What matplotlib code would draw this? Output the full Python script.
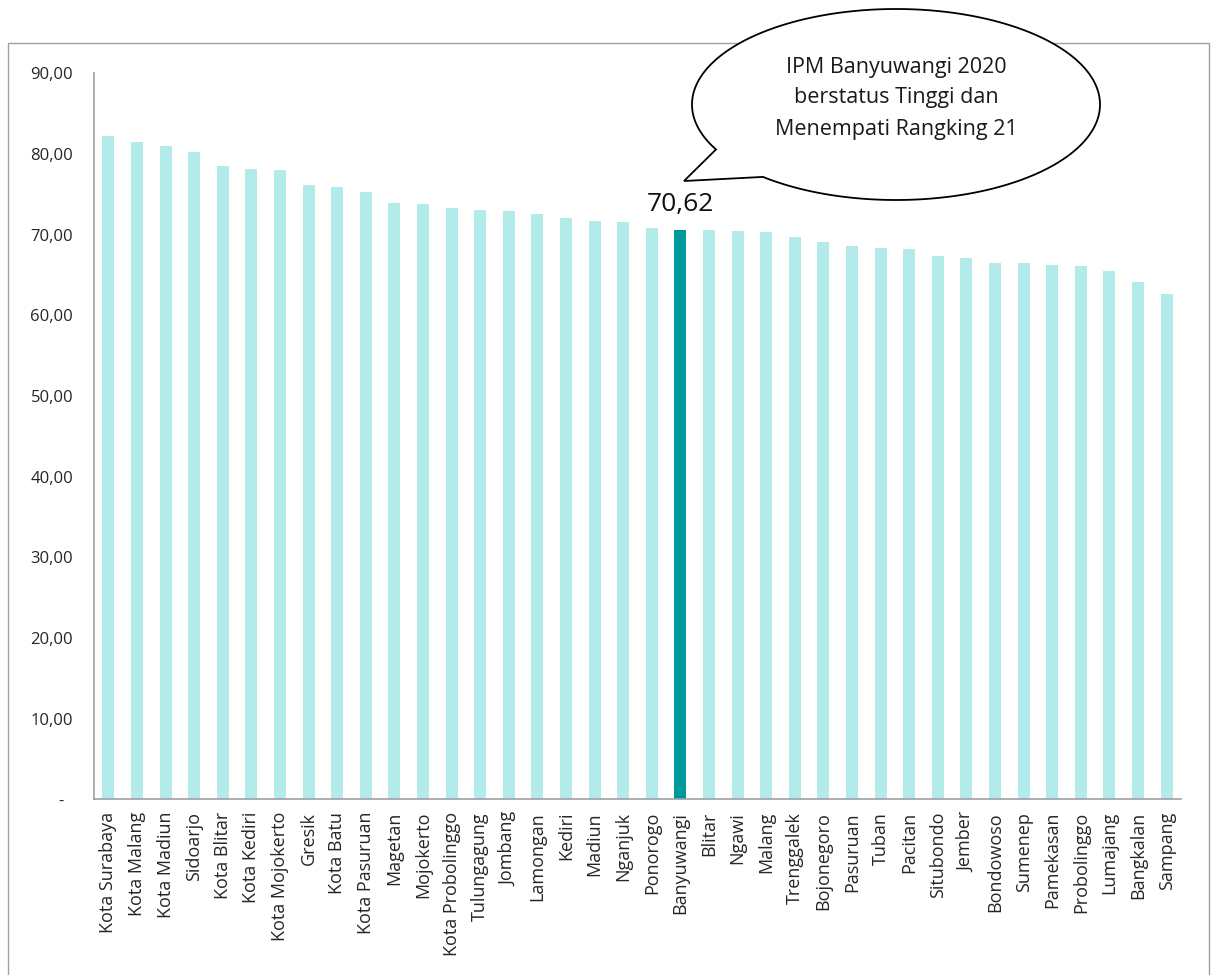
import numpy as np
import matplotlib
matplotlib.use("Agg")
import matplotlib.pyplot as plt
from matplotlib.patches import Polygon, Rectangle

plt.rcParams['font.family'] = ['Open Sans', 'DejaVu Sans']

regions = ["Kota Surabaya", "Kota Malang", "Kota Madiun", "Sidoarjo", "Kota Blitar",
           "Kota Kediri", "Kota Mojokerto", "Gresik", "Kota Batu", "Kota Pasuruan",
           "Magetan", "Mojokerto", "Kota Probolinggo", "Tulungagung", "Jombang",
           "Lamongan", "Kediri", "Madiun", "Nganjuk", "Ponorogo", "Banyuwangi",
           "Blitar", "Ngawi", "Malang", "Trenggalek", "Bojonegoro", "Pasuruan",
           "Tuban", "Pacitan", "Situbondo", "Jember", "Bondowoso", "Sumenep",
           "Pamekasan", "Probolinggo", "Lumajang", "Bangkalan", "Sampang"]
ipm = [82.23, 81.45, 81.00, 80.29, 78.57, 78.08, 77.96, 76.11, 75.90, 75.25,
       73.92, 73.83, 73.27, 73.01, 72.95, 72.58, 72.05, 71.69, 71.63, 70.81, 70.62,
       70.57, 70.50, 70.35, 69.74, 69.04, 68.60, 68.37, 68.27, 67.38, 67.11, 66.43,
       66.43, 66.30, 66.07, 65.51, 64.11, 62.70]
highlight = "Banyuwangi"
yticks = [0, 10, 20, 30, 40, 50, 60, 70, 80, 90]
ytick_labels = ["-", "10,00", "20,00", "30,00", "40,00", "50,00", "60,00", "70,00", "80,00", "90,00"]
callout_lines = ["IPM Banyuwangi 2020", "berstatus Tinggi dan", "Menempati Rangking 21"]

W, H = 1211, 975
fig = plt.figure(figsize=(W / 100, H / 100), dpi=100)

def fx(x):
    return x / W

def fy(y):
    return 1 - y / H

# outer chart border
fig.add_artist(Rectangle((fx(8), fy(1000)), fx(1209) - fx(8), fy(43) - fy(1000),
                         transform=fig.transFigure, fill=False, edgecolor='#A0A0A0',
                         linewidth=1.0, zorder=0))

ax = fig.add_axes([fx(94), fy(799.4), fx(1181) - fx(94), fy(73.3) - fy(799.4)])
x = np.arange(len(regions))
colors = ['#009999' if r == highlight else '#B2EBEA' for r in regions]
ax.bar(x, ipm, width=0.42, color=colors, zorder=2)
ax.set_xlim(-0.5, len(regions) - 0.5)
ax.set_ylim(0, 90)
ax.set_yticks(yticks)
ax.set_yticklabels([l if l != "-" else "-  " for l in ytick_labels])
ax.set_xticks(x)
ax.set_xticklabels(regions, rotation=90, fontsize=13, color='#262626')
ax.tick_params(axis='y', length=0, pad=15, labelsize=12, labelcolor='#262626')
ax.tick_params(axis='x', length=0, pad=9)
for s in ['top', 'right']:
    ax.spines[s].set_visible(False)
for s in ['left', 'bottom']:
    ax.spines[s].set_color('#A0A0A0')
    ax.spines[s].set_linewidth(1.2)

hi = regions.index(highlight)
ax.annotate(f"{ipm[hi]:.2f}".replace('.', ','), (hi, ipm[hi]), xytext=(0, 9),
            textcoords='offset points', ha='center', va='bottom', fontsize=19,
            color='#111111')

# callout (speech bubble)
cx, cy, a, b = 896, 104.5, 204, 95.5
t_start = np.pi - np.arccos(180 / a)
t_end = np.pi - np.arccos(133 / a) + 2 * np.pi
t = np.linspace(t_start, t_end, 400)
px = cx + a * np.cos(t)
py = cy + b * np.sin(t)
pts = list(zip(px, py)) + [(684, 181)]
pts_fig = [(fx(p), fy(q)) for p, q in pts]
fig.add_artist(Polygon(pts_fig, closed=True, transform=fig.transFigure,
                       facecolor='white', edgecolor='black', linewidth=1.3, zorder=5))
for i, line in enumerate(callout_lines):
    fig.text(fx(896), fy(67 + i * 31), line, ha='center', va='center', fontsize=15.5,
             color='#1a1a1a', zorder=6)

fig.savefig("out.png", dpi=100)
